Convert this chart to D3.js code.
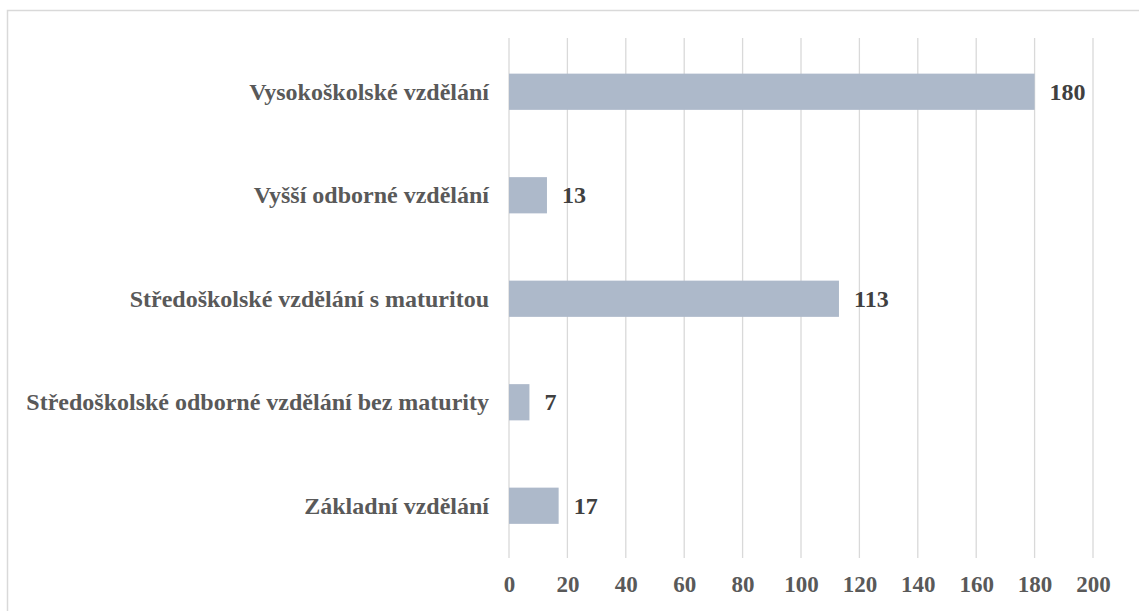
<!DOCTYPE html>
<html>
<head>
<meta charset="utf-8">
<script src="https://cdn.jsdelivr.net/npm/d3@7"></script>
<style>
  body { margin: 0; background: #fff; }
  svg { display: block; }
</style>
</head>
<body>
<script>
const width = 1139
const height = 611

const categories = ["Vysokoškolské vzdělání", "Vyšší odborné vzdělání", "Středoškolské vzdělání s maturitou", "Středoškolské odborné vzdělání bez maturity", "Základní vzdělání"]
const values = [180, 13, 113, 7, 17]
const ticks = [0, 20, 40, 60, 80, 100, 120, 140, 160, 180, 200]

const bar_color = "#adb9ca"
const grid_color = "#d9d9d9"
const label_color = "#595959"
const value_color = "#404040"
const font = "'Liberation Serif', 'Times New Roman', serif"

const left = 509, right = 1093
const grid_top = 38, grid_bottom = 558

var svg = d3.select("body").append("svg")
            .attr("width", width)
            .attr("height", height)

// chart frame (cut off at the right and bottom)
svg.append("rect")
   .attr("x", 7.5)
   .attr("y", 10.5)
   .attr("width", width + 10)
   .attr("height", height + 10)
   .style("fill", "none")
   .style("stroke", grid_color)
   .style("stroke-width", 1.5)

var x = d3.scaleLinear()
          .domain([0, 200])
          .range([left, right])

var y = d3.scaleBand()
          .domain(categories)
          .range([40, 557.5])
          .paddingInner(0.65)
          .paddingOuter(0.325)

// gridlines
svg.append("g")
   .selectAll("line")
   .data(ticks)
   .join("line")
   .attr("x1", d => x(d))
   .attr("x2", d => x(d))
   .attr("y1", grid_top)
   .attr("y2", grid_bottom)
   .style("stroke", grid_color)
   .style("stroke-width", 1.3)

// x axis labels
var xAxis = svg.append("g")
   .attr("transform", "translate(0," + grid_bottom + ")")
   .call(d3.axisBottom(x).tickValues(ticks).tickSize(0))
xAxis.select(".domain").remove()
xAxis.selectAll("text")
     .attr("y", 34)
     .attr("dy", 0)
     .style("font-family", font)
     .style("font-weight", "bold")
     .style("font-size", "23px")
     .style("fill", label_color)

// bars
svg.append("g")
   .selectAll("rect")
   .data(values)
   .join("rect")
   .attr("x", x(0))
   .attr("y", (d, i) => y(categories[i]))
   .attr("width", d => x(d) - x(0))
   .attr("height", y.bandwidth())
   .style("fill", bar_color)

// value labels
svg.append("g")
   .selectAll("text")
   .data(values)
   .join("text")
   .attr("x", d => x(d) + 15)
   .attr("y", (d, i) => y(categories[i]) + y.bandwidth() / 2)
   .attr("dy", "0.33em")
   .text(d => d)
   .style("font-family", font)
   .style("font-weight", "bold")
   .style("font-size", "24px")
   .style("fill", value_color)

// category labels
svg.append("g")
   .selectAll("text")
   .data(categories)
   .join("text")
   .attr("x", left - 20)
   .attr("y", d => y(d) + y.bandwidth() / 2)
   .attr("dy", "0.33em")
   .attr("text-anchor", "end")
   .text(d => d)
   .style("font-family", font)
   .style("font-weight", "bold")
   .style("font-size", "24px")
   .style("fill", label_color)
</script>
</body>
</html>
